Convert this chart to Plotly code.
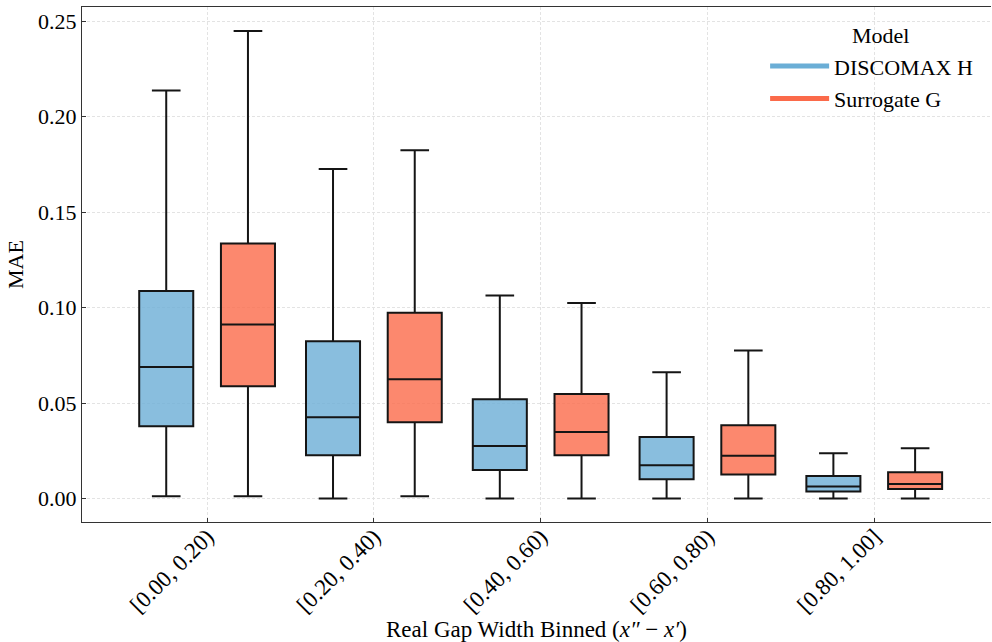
import plotly.graph_objects as go

# Gap-width bins on the x axis
categories = ["[0.00, 0.20)", "[0.20, 0.40)", "[0.40, 0.60)", "[0.60, 0.80)", "[0.80, 1.00]"]

# Box statistics of MAE per bin, DISCOMAX H
disco_lower = [0.0012, 0.0000, 0.0000, 0.0000, 0.0000]
disco_q1 = [0.0379, 0.0227, 0.0150, 0.0101, 0.0037]
disco_median = [0.0690, 0.0426, 0.0276, 0.0175, 0.0064]
disco_q3 = [0.1087, 0.0824, 0.0520, 0.0323, 0.0118]
disco_upper = [0.2138, 0.1726, 0.1064, 0.0662, 0.0237]

# Box statistics of MAE per bin, Surrogate G
surr_lower = [0.0012, 0.0012, 0.0000, 0.0000, 0.0000]
surr_q1 = [0.0589, 0.0400, 0.0227, 0.0126, 0.0050]
surr_median = [0.0912, 0.0625, 0.0349, 0.0225, 0.0077]
surr_q3 = [0.1336, 0.0973, 0.0548, 0.0384, 0.0138]
surr_upper = [0.2449, 0.1825, 0.1025, 0.0776, 0.0264]

models = ["DISCOMAX H", "Surrogate G"]
line_colors = ["#6baed6", "#fb6a4a"]
fill_colors = ["rgba(107,174,214,0.8)", "rgba(251,106,74,0.8)"]

OFFSET = 0.245
BOX_W = 0.324
FONT = "Liberation Serif"
FS = 22

stats = [
    (disco_lower, disco_q1, disco_median, disco_q3, disco_upper),
    (surr_lower, surr_q1, surr_median, surr_q3, surr_upper),
]

fig = go.Figure()
for k, (lo, q1, med, q3, hi) in enumerate(stats):
    shift = -OFFSET if k == 0 else OFFSET
    xs = [i + shift for i in range(len(categories))]
    fig.add_trace(go.Box(
        x=xs, q1=q1, median=med, q3=q3, lowerfence=lo, upperfence=hi,
        width=BOX_W, whiskerwidth=0.53,
        fillcolor=fill_colors[k],
        line=dict(color="#151515", width=2),
        boxpoints=False, showlegend=False, name=models[k],
    ))

# Legend entries drawn as thick line swatches
for k, m in enumerate(models):
    fig.add_trace(go.Scatter(
        x=[None], y=[None], mode="lines", name=m,
        line=dict(color=line_colors[k], width=5),
        legendgroup=m, showlegend=True,
    ))

grid = dict(showgrid=True, gridcolor="#e3e3e3", gridwidth=1, griddash="3px,2px")
tfont = dict(family=FONT, size=FS, color="black")
xfont = dict(family=FONT, size=23, color="black")

fig.update_layout(
    width=992, height=642,
    margin=dict(l=82, r=1, t=7, b=120),
    paper_bgcolor="white", plot_bgcolor="white",
    font=tfont,
    boxmode="overlay",
    showlegend=True,
    legend=dict(
        x=0.7515, y=0.926, xanchor="left", yanchor="top",
        bgcolor="rgba(255,255,255,0)", borderwidth=0,
        font=tfont, itemwidth=59, tracegroupgap=1,
    ),
    annotations=[dict(
        text="Model", xref="paper", yref="paper", x=0.878, y=0.9437,
        xanchor="center", yanchor="middle", showarrow=False, font=tfont,
    )],
    xaxis=dict(
        range=[-0.75, 4.70],
        tickmode="array", tickvals=list(range(len(categories))), ticktext=categories,
        tickangle=-45, ticks="inside", ticklen=4, tickcolor="#333",
        ticklabelstandoff=-9,
        showline=True, linecolor="#333", linewidth=1.2, mirror=True,
        zeroline=False,
        tickfont=xfont,
        title=dict(text="Real Gap Width Binned (<i>x″</i> − <i>x′</i>)", font=xfont, standoff=4),
        **grid,
    ),
    yaxis=dict(
        range=[-0.01225, 0.2575],
        tickvals=[0, 0.05, 0.10, 0.15, 0.20, 0.25],
        tickformat=".2f",
        ticks="inside", ticklen=4, tickcolor="#333",
        showline=True, linecolor="#333", linewidth=1.2,
        zeroline=False,
        tickfont=tfont,
        title=dict(text="MAE", font=tfont, standoff=8),
        **grid,
    ),
)

fig.write_html("out.html")
